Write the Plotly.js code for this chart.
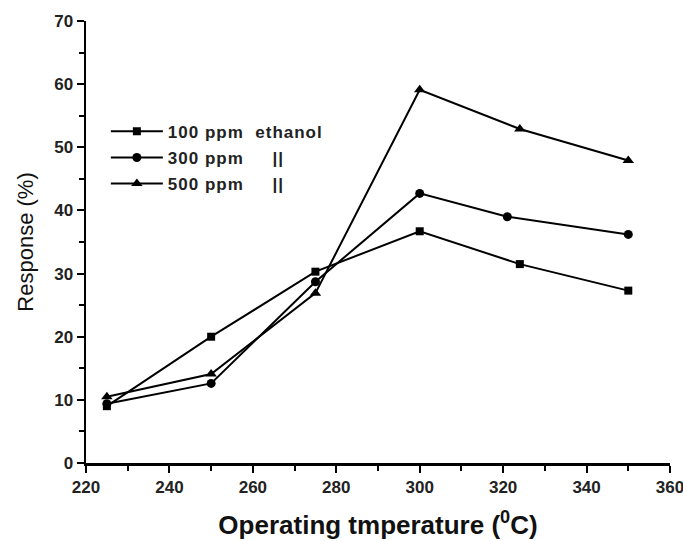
<!DOCTYPE html>
<html>
<head>
<meta charset="utf-8">
<script src="https://cdn.plot.ly/plotly-3.0.1.min.js"></script>
<style>html,body{margin:0;padding:0;background:#fff;}#chart{width:683px;height:541px;}
.legendtext{letter-spacing:1px;}</style>
</head>
<body>
<div id="chart"></div>
<script>
const temp100 = [225, 250, 275, 300, 324, 350];
const resp100 = [9.0, 20.0, 30.3, 36.7, 31.5, 27.3];
const temp300 = [225, 250, 275, 300, 321, 350];
const resp300 = [9.4, 12.6, 28.7, 42.7, 39.0, 36.2];
const temp500 = [225, 250, 275, 300, 324, 350];
const resp500 = [10.5, 14.1, 26.9, 59.1, 52.9, 47.9];
const seriesNames = ["100 ppm\u00a0\u00a0ethanol", "300 ppm\u00a0\u00a0\u00a0\u00a0\u00a0||", "500 ppm\u00a0\u00a0\u00a0\u00a0\u00a0||"];
const xTicks = [220, 240, 260, 280, 300, 320, 340, 360];

const lineStyle = {color: '#000', width: 2};
const traces = [
  {x: temp100, y: resp100, name: seriesNames[0], legendgroup: 'a', mode: 'lines+markers', line: lineStyle,
   marker: {symbol: 'square', size: 8, color: '#000'}},
  {x: temp300, y: resp300, name: seriesNames[1], legendgroup: 'b', mode: 'lines+markers', line: lineStyle,
   marker: {symbol: 'circle', size: 9, color: '#000'}},
  {x: temp500, y: resp500, name: seriesNames[2], legendgroup: 'c', mode: 'lines+markers', line: lineStyle,
   marker: {symbol: 'triangle-up', size: 10, color: '#000'}}
];

const fam = 'Liberation Sans, Arial, sans-serif';
const tickFont = {family: fam, size: 17, color: '#222', weight: 'bold'};
const layout = {
  width: 683, height: 541,
  margin: {l: 86, r: 13, t: 21, b: 78},
  paper_bgcolor: '#fff', plot_bgcolor: '#fff',
  showlegend: true,
  legend: {x: 0.034, y: 0.79, xanchor: 'left', yanchor: 'top', bgcolor: 'rgba(0,0,0,0)',
           font: {family: fam, size: 17, color: '#222', weight: 'bold'},
           tracegroupgap: 1, itemwidth: 52},
  xaxis: {
    range: [220, 360], tickvals: xTicks, ticklabeloverflow: 'allow',
    showgrid: false, zeroline: false, showline: true, linecolor: '#000', linewidth: 2.5,
    ticks: 'outside', ticklen: 7, tickwidth: 2, tickcolor: '#000',
    minor: {dtick: 10, ticks: 'outside', ticklen: 5, tickwidth: 2, tickcolor: '#000', showgrid: false},
    tickfont: tickFont,
    title: {text: 'Operating tmperature (<sup>0</sup>C)', standoff: 20,
            font: {family: fam, size: 26, color: '#111', weight: 'bold'}}
  },
  yaxis: {
    range: [0, 70], dtick: 10, ticklabeloverflow: 'allow',
    showgrid: false, zeroline: false, showline: true, linecolor: '#000', linewidth: 2.5,
    ticks: 'outside', ticklen: 7, tickwidth: 2, tickcolor: '#000',
    minor: {dtick: 5, ticks: 'outside', ticklen: 5, tickwidth: 2, tickcolor: '#000', showgrid: false},
    tickfont: tickFont,
    title: {text: 'Response (%)', standoff: 15,
            font: {family: fam, size: 22, color: '#111'}}
  }
};
Plotly.newPlot('chart', traces, layout, {displayModeBar: false, staticPlot: true});
</script>
</body>
</html>
